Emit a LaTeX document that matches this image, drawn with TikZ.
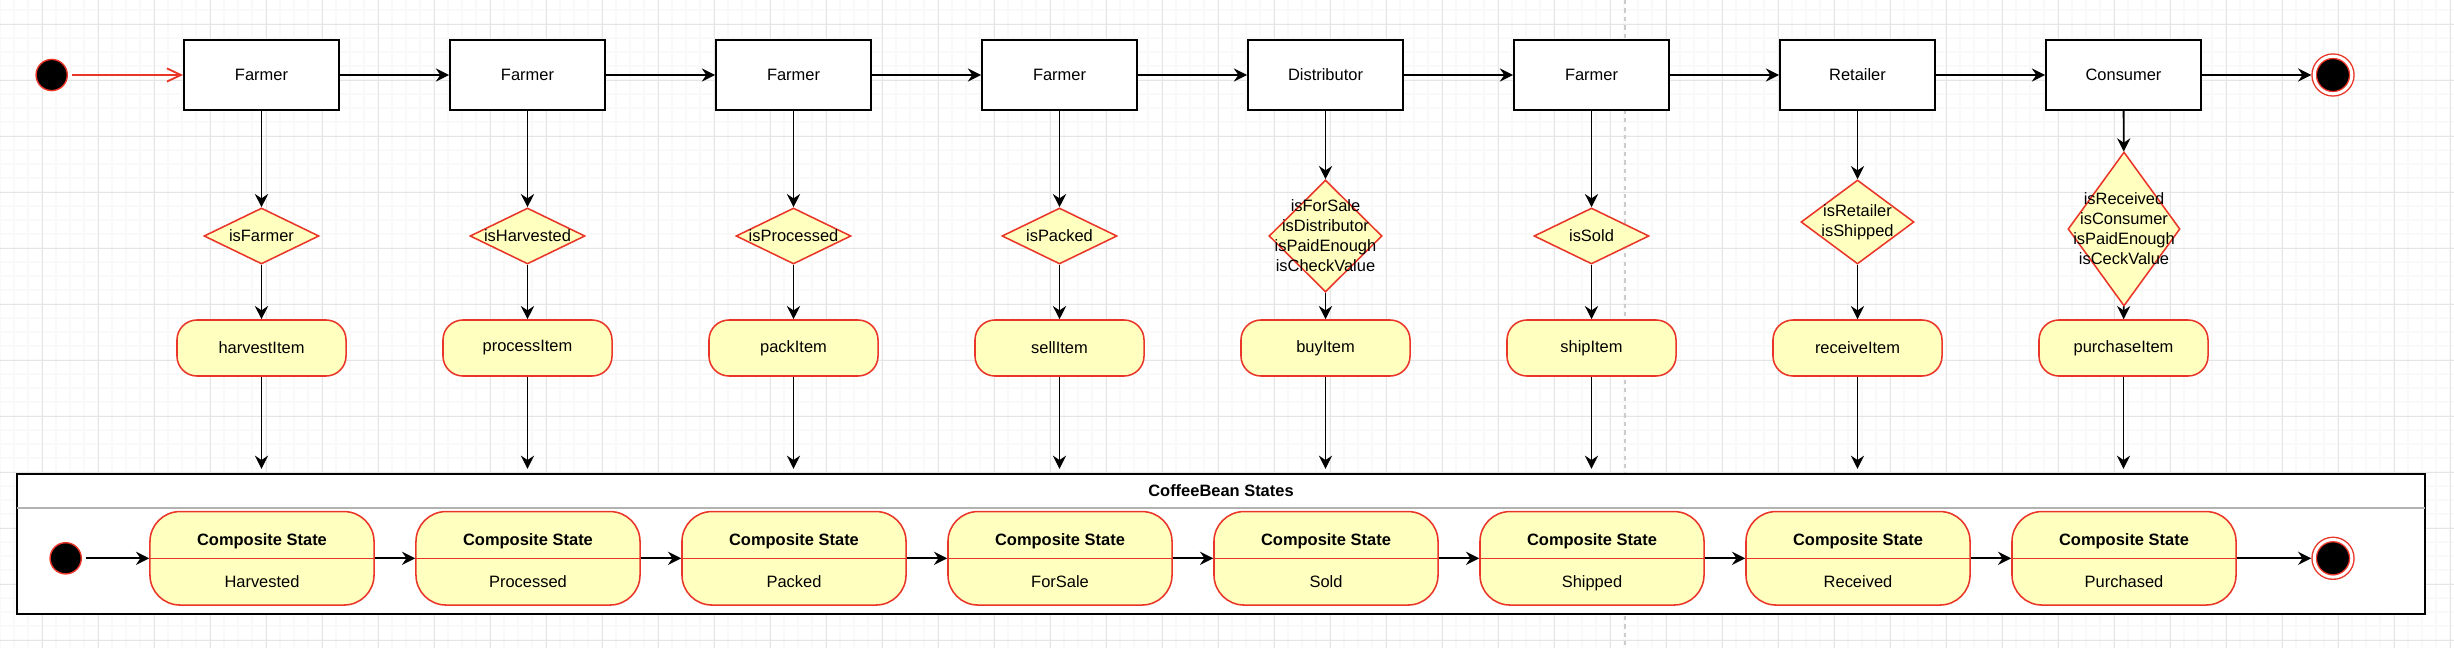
\documentclass[tikz,border=0pt]{standalone}
\usepackage{fontspec}
\setmainfont{Liberation Sans}
\usepackage{tikz}
\usetikzlibrary{arrows.meta,positioning,shapes.geometric}
\definecolor{statered}{RGB}{234,54,40}
\definecolor{stateyellow}{RGB}{255,255,192}
\tikzset{
  role/.style={draw, line width=1.3pt, fill=white, minimum width=3.875cm, minimum height=1.75cm},
  guard/.style={diamond, draw=statered, line width=1.1pt, fill=stateyellow, inner sep=0pt, minimum width=2.875cm, minimum height=1.4cm},
  guardtext/.style={align=center, inner sep=0pt},
  action/.style={draw=statered, line width=1.1pt, fill=stateyellow, rounded corners=0.5cm, minimum width=4.225cm, minimum height=1.4cm},
  cstate/.style={draw=statered, line width=1.1pt, fill=stateyellow, rounded corners=0.75cm, minimum width=5.6cm, minimum height=2.1cm, align=center, font=\fontsize{11.7pt}{29.9pt}\selectfont},
  initdot/.style={circle, draw=statered, line width=1pt, fill=black, minimum size=0.78cm, inner sep=0pt},
  finaldot/.style={circle, draw=statered, line width=1pt, fill=black, double=white, double distance=0.075cm, minimum size=0.94cm, inner sep=0pt, outer sep=2.1pt},
  flow/.style={line width=1.3pt, -{Stealth[length=3.3mm, width=3.3mm, inset=1.1mm]}},
  minorgrid/.style={gray!5, line width=1pt},
  majorgrid/.style={gray!20, line width=0.6pt}
}
\begin{document}
\begin{tikzpicture}[x=0.025cm, y=-0.025cm, font=\fontsize{11.7pt}{14.2pt}\selectfont]
		\useasboundingbox (0,0) rectangle (2454,648);
		% background grid
		\foreach \gx in {0,14,...,2450} \draw [minorgrid] (\gx,0) -- (\gx,648);
		\foreach \gy in {10,24,...,646} \draw [minorgrid] (0,\gy) -- (2454,\gy);
		\foreach \gx in {42,98,...,2450} \draw [majorgrid] (\gx,0) -- (\gx,648);
		\foreach \gy in {24,80,...,646} \draw [majorgrid] (0,\gy) -- (2454,\gy);
		\draw [gray!40, dashed, line width=0.8pt] (1625,0) -- (1625,648);
		% actors
		\node [initdot](init) at (51.7,75) {};
		\node [role](role1) at (261.5,75) {Farmer};
		\node [role](role2) at (527.5,75) {Farmer};
		\node [role](role3) at (793.5,75) {Farmer};
		\node [role](role4) at (1059.5,75) {Farmer};
		\node [role](role5) at (1325.5,75) {Distributor};
		\node [role](role6) at (1591.5,75) {Farmer};
		\node [role](role7) at (1857.5,75) {Retailer};
		\node [role](role8) at (2123.5,75) {Consumer};
		\node [finaldot](fin) at (2333,75) {};
		% guards
		\node [guard, label={[guardtext]center:isFarmer}](guard1) at (261.5,236) {};
		\node [guard, label={[guardtext]center:isHarvested}](guard2) at (527.5,236) {};
		\node [guard, label={[guardtext]center:isProcessed}](guard3) at (793.5,236) {};
		\node [guard, label={[guardtext]center:isPacked}](guard4) at (1059.5,236) {};
		\node [guard, minimum width=2.825cm, minimum height=2.8cm, label={[guardtext]center:isForSale\\isDistributor\\isPaidEnough\\isCheckValue}](guard5) at (1325.5,236) {};
		\node [guard, label={[guardtext]center:isSold}](guard6) at (1591.5,236) {};
		\node [guard, minimum width=2.825cm, minimum height=2.1cm, label={[guardtext]center:isRetailer\\isShipped}](guard7) at (1857.5,222) {};
		\node [guard, minimum width=2.8cm, minimum height=3.85cm, label={[guardtext]center:isReceived\\isConsumer\\isPaidEnough\\isCeckValue}](guard8) at (2124,229) {};
		% actions
		\node [action](act1) at (261.5,348) {harvestItem};
		\node [action](act2) at (527.5,348) {processItem};
		\node [action](act3) at (793.5,348) {packItem};
		\node [action](act4) at (1059.5,348) {sellItem};
		\node [action](act5) at (1325.5,348) {buyItem};
		\node [action](act6) at (1591.5,348) {shipItem};
		\node [action](act7) at (1857.5,348) {receiveItem};
		\node [action](act8) at (2123.5,348) {purchaseItem};
		% coffee bean states
		\node [draw, line width=1.3pt, fill=white, minimum width=60.2cm, minimum height=3.5cm](beans) at (1221,544) {};
		\node [](beanstitle) at (1221,491) {\bfseries CoffeeBean States};
		\draw [gray!60, line width=0.8pt] (17,508) -- (2425,508);
		\node [initdot](init2) at (65.7,558.3) {};
		\node [cstate](st1) at (262,558.3) {\textbf{Composite State}\strut\\Harvested\strut};
		\node [cstate](st2) at (528,558.3) {\textbf{Composite State}\strut\\Processed\strut};
		\node [cstate](st3) at (794,558.3) {\textbf{Composite State}\strut\\Packed\strut};
		\node [cstate](st4) at (1060,558.3) {\textbf{Composite State}\strut\\ForSale\strut};
		\node [cstate](st5) at (1326,558.3) {\textbf{Composite State}\strut\\Sold\strut};
		\node [cstate](st6) at (1592,558.3) {\textbf{Composite State}\strut\\Shipped\strut};
		\node [cstate](st7) at (1858,558.3) {\textbf{Composite State}\strut\\Received\strut};
		\node [cstate](st8) at (2124,558.3) {\textbf{Composite State}\strut\\Purchased\strut};
		\node [finaldot](fin2) at (2333,558.3) {};
		\foreach \i in {1,...,8} \draw [statered, line width=1pt] (st\i.west) -- (st\i.east);
		% transitions
		\draw [statered, line width=1.3pt, shorten <=3pt, -{Straight Barb[length=3.5mm, width=3.3mm]}] (init) -- (role1);
		\foreach \i [count=\j from 2] in {1,...,7} \draw [flow] (role\i) -- (role\j);
		\draw [flow] (role8) -- (fin);
		\foreach \i in {1,...,8} {
			\draw [flow] (role\i) -- (guard\i);
			\draw [flow] (guard\i) -- (act\i);
			\draw [flow, shorten >=3pt] (act\i) -- (act\i |- beans.north);
		}
		\draw [flow, shorten <=3pt] (init2) -- (st1);
		\foreach \i [count=\j from 2] in {1,...,7} \draw [flow] (st\i) -- (st\j);
		\draw [flow] (st8) -- (fin2);
		\end{tikzpicture}
\end{document}
